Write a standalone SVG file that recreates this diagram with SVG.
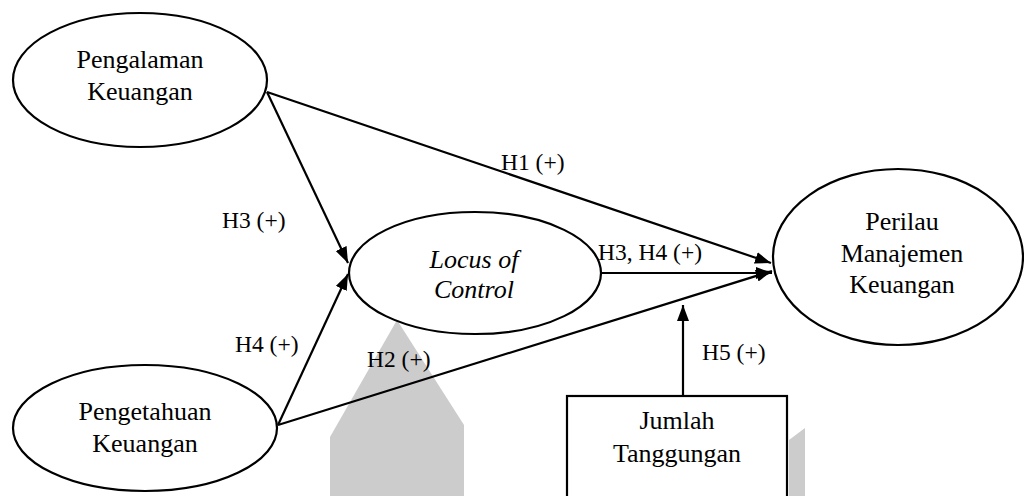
<svg xmlns="http://www.w3.org/2000/svg" width="1024" height="496" viewBox="0 0 1024 496">
<defs>
<style>
.node{fill:#fff;stroke:#000;stroke-width:2.2}
.t{font-family:"Liberation Serif","Times New Roman",serif;font-size:26px;fill:#000;text-anchor:middle}
.it{font-style:italic}
.lb{font-family:"Liberation Serif","Times New Roman",serif;font-size:23.5px;fill:#000}
.edge{stroke:#000;stroke-width:2.2;fill:none;marker-end:url(#ah)}
.wm{fill:#cccccc;stroke:none}
</style>
<marker id="ah" markerUnits="userSpaceOnUse" markerWidth="18" markerHeight="14" refX="16" refY="6" orient="auto">
<path d="M0,0 L16,6 L0,12 z" fill="#000"/>
</marker>
</defs>
<rect width="1024" height="496" fill="#fff"/>
<g id="watermark">
<polygon class="wm" points="397,320 464,425 464,496 330,496 330,437"/>
<polygon class="wm" points="789,440 805,428 805,496 789,496"/>
</g>
<g id="connectors">
<line class="edge" x1="267" y1="92" x2="771" y2="263"/>
<line class="edge" x1="267" y1="92" x2="348" y2="263"/>
<line class="edge" x1="278" y1="425" x2="348" y2="274"/>
<line class="edge" x1="278" y1="425" x2="772" y2="271"/>
<line class="edge" x1="600" y1="273" x2="772" y2="273"/>
<line class="edge" x1="683" y1="396" x2="683" y2="305"/>
<text class="lb" x="501" y="170">H1 (+)</text>
<text class="lb" x="222" y="228">H3 (+)</text>
<text class="lb" x="598" y="260">H3, H4 (+)</text>
<text class="lb" x="235" y="352">H4 (+)</text>
<text class="lb" x="367" y="367">H2 (+)</text>
<text class="lb" x="702" y="360">H5 (+)</text>
</g>
<g id="pengalaman">
<ellipse class="node" cx="140" cy="80" rx="127" ry="67"/>
<text class="t" x="140" y="68">Pengalaman</text>
<text class="t" x="140" y="100">Keuangan</text>
</g>
<g id="locus">
<ellipse class="node" cx="475" cy="273" rx="126" ry="61"/>
<text class="t it" x="474" y="268">Locus of</text>
<text class="t it" x="474" y="298">Control</text>
</g>
<g id="perilaku">
<ellipse class="node" cx="898" cy="257" rx="125" ry="88"/>
<text class="t" x="902" y="230">Perilau</text>
<text class="t" x="902" y="262">Manajemen</text>
<text class="t" x="902" y="293">Keuangan</text>
</g>
<g id="pengetahuan">
<ellipse class="node" cx="145" cy="428" rx="132" ry="63"/>
<text class="t" x="145" y="420">Pengetahuan</text>
<text class="t" x="145" y="452">Keuangan</text>
</g>
<g id="jumlah">
<rect class="node" x="567" y="396" width="220" height="112"/>
<text class="t" x="677" y="429">Jumlah</text>
<text class="t" x="677" y="462">Tanggungan</text>
</g>
</svg>
